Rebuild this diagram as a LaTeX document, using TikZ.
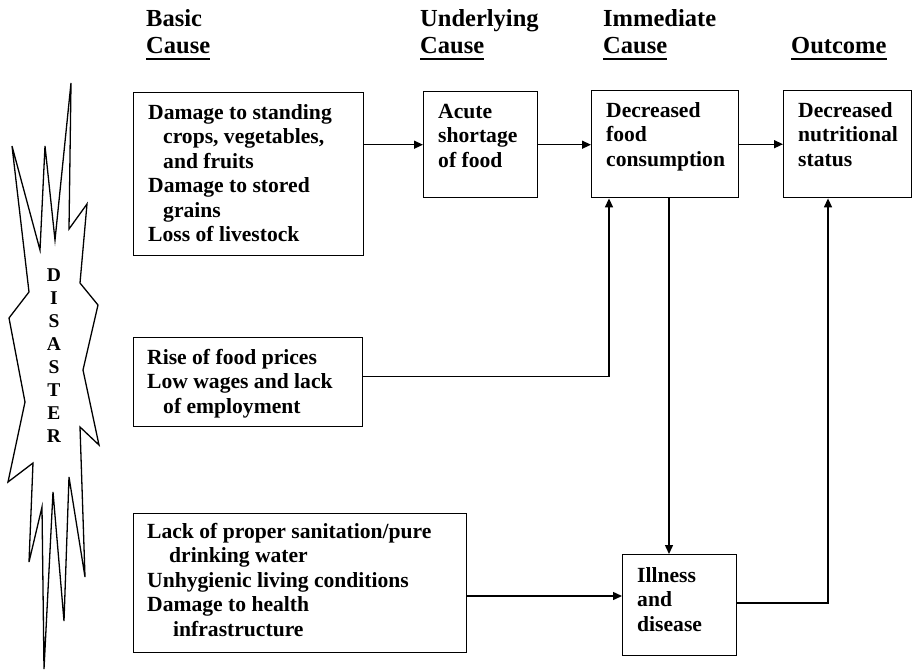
\documentclass[tikz,border=0pt]{standalone}
\usepackage{fontspec}
\setmainfont{Liberation Serif}
\usetikzlibrary{arrows.meta,calc}
\begin{document}
\begin{tikzpicture}[x=1pt,y=-1pt,
  box/.style={draw,line width=1.4pt,anchor=north west,inner sep=0pt},
  txt/.style={anchor=north west,inner sep=0pt,align=left,font=\fontsize{21.6}{24.5}\selectfont\bfseries},
  hdr/.style={anchor=base west,inner sep=0pt,font=\fontsize{24.5}{28}\selectfont\bfseries},
  uline/.style={line width=1.7pt},
  arr/.style={line width=1.4pt,-{Triangle[length=9pt,width=8pt]}},
  burst/.style={line width=1.3pt,line join=miter}]
\useasboundingbox (0,0) rectangle (913,670);

% headers
\node[hdr] (h1a) at (146,26) {Basic};
\node[hdr] (h1b) at (146,53) {Cause\ };
\node[hdr] (h2a) at (420,26) {Underlying};
\node[hdr] (h2b) at (420,53) {Cause\ };
\node[hdr] (h3a) at (603,26) {Immediate};
\node[hdr] (h3b) at (603,53) {Cause\ };
\node[hdr] (h4b) at (791,53) {Outcome};
\foreach \h in {h1b,h2b,h3b,h4b}
  \draw[uline] ([yshift=-6pt]\h.base west) -- ([yshift=-6pt]\h.base east);

% starburst
\draw[burst] (12,146) -- (40,250) -- (45,146) -- (55,240) -- (71,83) -- (69,229)
  -- (87,204) -- (80,283) -- (98,305) -- (83,370) -- (99,445) -- (80,427)
  -- (85,577) -- (69,477) -- (64,621) -- (53,492) -- (44,669) -- (42,507)
  -- (29,562) -- (33,463) -- (8,482) -- (25,402) -- (9,318) -- (29,292) -- cycle;
\node[align=center,inner sep=0pt,font=\fontsize{19.5}{23}\selectfont\bfseries] (dis) at (54,355.5)
  {D\\I\\S\\A\\S\\T\\E\\R};

% boxes
\node[box,minimum width=230pt,minimum height=163pt] (b1) at (133,92) {};
\node[box,minimum width=114pt,minimum height=106pt] (b2) at (423,91) {};
\node[box,minimum width=147pt,minimum height=107pt] (b3) at (591,90) {};
\node[box,minimum width=128pt,minimum height=107pt] (b4) at (783,90) {};
\node[box,minimum width=229pt,minimum height=89pt] (b5) at (133,337) {};
\node[box,minimum width=333pt,minimum height=139pt] (b6) at (133,513) {};
\node[box,minimum width=114pt,minimum height=101pt] (b7) at (622,554) {};

% texts
\node[txt] (t1) at ($(b1.north west)+(15,12)$) {\rule{0pt}{15pt}Damage to standing\\
  \hspace*{15pt}crops, vegetables,\\ \hspace*{15pt}and fruits\\ Damage to stored\\
  \hspace*{15pt}grains\\ Loss of livestock};
\node[txt] (t2) at ($(b2.north west)+(15,12)$) {\rule{0pt}{15pt}Acute\\ shortage\\ of food};
\node[txt] (t3) at ($(b3.north west)+(15,12)$) {\rule{0pt}{15pt}Decreased\\ food\\ consumption};
\node[txt] (t4) at ($(b4.north west)+(15,12)$) {\rule{0pt}{15pt}Decreased\\ nutritional\\ status};
\node[txt] (t5) at ($(b5.north west)+(14,12)$) {\rule{0pt}{15pt}Rise of food prices\\
  Low wages and lack\\ \hspace*{16pt}of employment};
\node[txt] (t6) at ($(b6.north west)+(14,10)$) {\rule{0pt}{15pt}Lack of proper sanitation/pure\\
  \hspace*{22pt}drinking water\\ Unhygienic living conditions\\ Damage to health\\
  \hspace*{26pt}infrastructure};
\node[txt] (t7) at ($(b7.north west)+(15,13)$) {\rule{0pt}{15pt}Illness\\ and\\ disease};

% connectors
\draw[arr] (b1.east |- b2.west) -- (b2.west);
\draw[arr] (b2.east) -- (b2.east -| b3.west);
\draw[arr] (b3.east) -- (b3.east -| b4.west);
\coordinate (c0) at ([xshift=18pt]b3.south west);
\draw[arr] ([yshift=6pt]b5.east) -| (c0);
\coordinate (c1) at ([xshift=78pt]b3.south west);
\draw[arr] (c1) -- (c1 |- b7.north);
\coordinate (c2) at ([yshift=-42pt]b7.north west);
\draw[arr] (c2 -| b6.east) -- (c2);
\coordinate (c3) at ([yshift=-49pt]b7.north east);
\coordinate (c4) at ([xshift=45pt]b4.south west);
\draw[arr] (c3) -| (c4);
\end{tikzpicture}
\end{document}
